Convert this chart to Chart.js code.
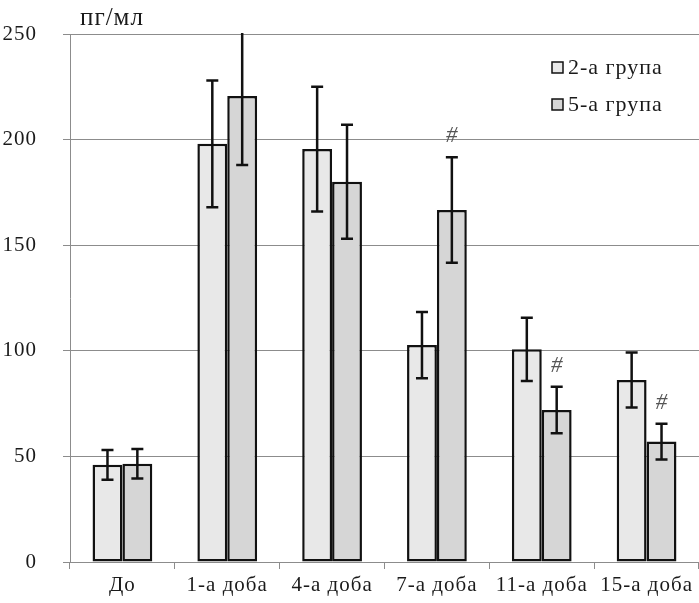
<!DOCTYPE html>
<html>
<head>
<meta charset="utf-8">
<script src="https://cdn.jsdelivr.net/npm/chart.js@4"></script>
<style>
  html, body { margin: 0; padding: 0; background: #fff; }
  #wrap { width: 699px; height: 603px; }
</style>
</head>
<body>
<div id="wrap"><canvas id="cytokineChart"></canvas></div>
<script>
const categories = ['До', '1-а доба', '4-а доба', '7-а доба', '11-а доба', '15-а доба'];
const group2 = [46, 198, 195.5, 102.7, 100.7, 86.2];
const group2Err = [7, 30, 29.5, 15.7, 15, 13];
const group5 = [46.5, 220.6, 180, 166.7, 72, 57];
const group5Err = [7, 32.6, 27, 25, 11, 8.5];
const group5Marks = ['', '', '', '#', '#', '#'];
const yTicks = [0, 50, 100, 150, 200, 250];

const colors = {
    fill2: '#e8e8e8',
    fill5: '#d6d6d6',
    border: '#111111',
    grid: '#8c8c8c',
    text: '#1a1a1a',
};
const serif = '"Liberation Serif", "DejaVu Serif", serif';

// draws error bars, the # marks, the unit label and the legend
const extras = {
    id: 'extras',
    beforeDraw(chart) {
        chart.ctx.letterSpacing = '1px';
    },
    afterDatasetsDraw(chart) {
        const c = chart.ctx;
        const y = chart.scales.y;
        const area = chart.chartArea;
        const errs = [group2Err, group5Err];
        c.save();
        c.beginPath();
        c.rect(area.left, area.top - 1, area.right - area.left, area.bottom - area.top + 2);
        c.clip();
        c.strokeStyle = colors.border;
        c.lineWidth = 2.5;
        chart.data.datasets.forEach((ds, di) => {
            chart.getDatasetMeta(di).data.forEach((bar, i) => {
                const v = ds.data[i], e = errs[di][i];
                const yt = y.getPixelForValue(v + e), yb = y.getPixelForValue(v - e);
                c.beginPath();
                c.moveTo(bar.x, yt); c.lineTo(bar.x, yb);
                c.moveTo(bar.x - 6, yt); c.lineTo(bar.x + 6, yt);
                c.moveTo(bar.x - 6, yb); c.lineTo(bar.x + 6, yb);
                c.stroke();
            });
        });
        c.restore();

        c.save();
        c.letterSpacing = '0px';
        c.fillStyle = '#555';
        c.font = 'italic 23px ' + serif;
        c.textAlign = 'center';
        c.textBaseline = 'middle';
        chart.getDatasetMeta(1).data.forEach((bar, i) => {
            if (!group5Marks[i]) return;
            const yt = y.getPixelForValue(group5[i] + group5Err[i]);
            c.fillText(group5Marks[i], bar.x, yt - 21);
        });

        c.letterSpacing = '1px';
        c.fillStyle = colors.text;
        c.font = '25px ' + serif;
        c.textAlign = 'left';
        c.fillText('пг/мл', 80, 18);

        const fills = [colors.fill2, colors.fill5];
        c.font = '22px ' + serif;
        chart.data.datasets.forEach((ds, di) => {
            const by = 62 + di * 37;
            c.fillStyle = fills[di];
            c.fillRect(552, by, 11, 11);
            c.strokeStyle = colors.border;
            c.lineWidth = 1.5;
            c.strokeRect(552, by, 11, 11);
            c.fillStyle = colors.text;
            c.fillText(ds.label, 568, by + 6);
        });
        c.restore();
    }
};

new Chart(document.getElementById('cytokineChart'), {
    type: 'bar',
    data: {
        labels: categories,
        datasets: [
            {
                label: '2-а група',
                data: group2,
                backgroundColor: colors.fill2,
                borderColor: colors.border,
                borderWidth: 2.5,
                borderSkipped: false,
            },
            {
                label: '5-а група',
                data: group5,
                backgroundColor: colors.fill5,
                borderColor: colors.border,
                borderWidth: 2.5,
                borderSkipped: false,
            }
        ]
    },
    options: {
        responsive: true,
        maintainAspectRatio: false,
        animation: false,
        categoryPercentage: 0.57,
        barPercentage: 1,
        layout: { padding: { top: 34, left: 0, right: 0, bottom: 0 } },
        scales: {
            y: {
                min: 0,
                max: 250,
                afterFit(scale) {
                    scale.width = 70;
                    scale.paddingTop = 0;
                    scale.paddingBottom = 0;
                },
                afterBuildTicks(scale) { scale.ticks = yTicks.map(v => ({ value: v })); },
                grid: { color: colors.grid, tickLength: 7 },
                border: { color: colors.grid },
                ticks: {
                    color: colors.text,
                    padding: 26,
                    font: { family: serif, size: 21 }
                }
            },
            x: {
                afterFit(scale) { scale.height = 41; },
                grid: { color: colors.grid, drawOnChartArea: false, tickLength: 7 },
                border: { color: colors.grid },
                ticks: {
                    color: colors.text,
                    padding: 4,
                    maxRotation: 0,
                    font: { family: serif, size: 21 }
                }
            }
        },
        plugins: {
            legend: { display: false },
            tooltip: { enabled: false }
        }
    },
    plugins: [extras]
});
</script>
</body>
</html>
